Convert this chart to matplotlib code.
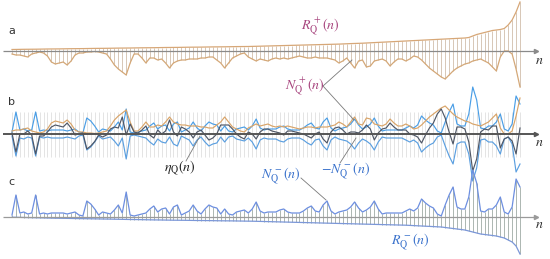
import matplotlib
matplotlib.use("Agg")
import matplotlib.pyplot as plt
import numpy as np
from matplotlib.lines import Line2D

plt.rcParams["mathtext.fontset"] = "stix"

# ---------------- data ----------------
n_index = list(range(1, 131))

# N_Q^+(n): drawn downward in panel a, upward in panel b
N_plus = [3, 4, 4, 5, 6, 3, 2, 1, 2, 5,
          11, 13, 12, 11, 14, 10, 4, 2, 2, 1,
          1, 0.5, 1, 2, 3, 8, 14, 18, 21, 24,
          12, 3, 3, 7, 12, 7, 7, 9, 8, 12,
          17, 12, 10, 9, 9, 8, 8, 8, 7, 7,
          6, 6, 9, 12, 17, 12, 7, 5, 3, 2,
          6, 8, 10, 8, 9, 10, 8, 7, 8, 7,
          8, 7, 6, 5, 6, 7, 7, 6, 7, 7,
          7, 8, 9, 12, 10, 7, 12, 17, 10, 9,
          16, 15, 10, 9, 8, 10, 15, 11, 8, 8,
          10, 8, 5, 6, 9, 13, 17, 20, 23, 26,
          28, 24, 20, 17, 15, 13, 12, 10, 9, 8,
          10, 12, 16, 20, 6, 0, 0, 3, 18, 36]

# N_Q^-(n): drawn upward in panel c, +/- in panel b
N_minus = [2, 22, 4, 5, 3, 4, 22, 3, 4, 3,
           4, 4, 4, 4, 3, 4, 5, 2, 1, 16,
           13, 8, 2, 5, 4, 3, 7, 12, 4, 25,
           2, 1, 2, 3, 4, 8, 11, 5, 8, 9,
           3, 10, 12, 2, 4, 6, 12, 6, 3, 8,
           12, 10, 9, 3, 8, 3, 2, 5, 6, 7,
           4, 8, 15, 6, 4, 5, 5, 5, 7, 8,
           5, 4, 4, 4, 6, 9, 11, 6, 5, 12,
           16, 6, 3, 5, 6, 7, 10, 15, 9, 5,
           7, 10, 16, 8, 3, 4, 4, 4, 4, 4,
           6, 8, 6, 9, 18, 14, 11, 9, 3, 1,
           12, 22, 30, 10, 8, 8, 20, 47, 34, 6,
           5, 8, 8, 12, 20, 5, 3, 10, 38, 30]

# R_Q^+(n): upper envelope in panel a
R_plus = [1.5, 1.6, 1.6, 1.7, 1.7, 1.8, 1.8, 1.9, 1.9, 2.0,
          2.0, 2.1, 2.1, 2.2, 2.2, 2.3, 2.3, 2.4, 2.4, 2.5,
          2.5, 2.6, 2.6, 2.7, 2.7, 2.8, 2.8, 2.9, 2.9, 3.0,
          3.0, 3.1, 3.1, 3.2, 3.2, 3.3, 3.3, 3.4, 3.4, 3.5,
          3.5, 3.6, 3.6, 3.7, 3.7, 3.8, 3.8, 3.9, 3.9, 4.0,
          4.0, 4.1, 4.1, 4.2, 4.2, 4.3, 4.3, 4.4, 4.4, 4.5,
          4.5, 4.6, 4.6, 4.7, 4.8, 4.9, 5.0, 5.1, 5.2, 5.3,
          5.4, 5.5, 5.6, 5.7, 5.8, 5.9, 6.0, 6.1, 6.2, 6.3,
          6.5, 6.6, 6.8, 6.9, 7.1, 7.2, 7.4, 7.5, 7.7, 7.8,
          8.0, 8.2, 8.4, 8.6, 8.8, 9.0, 9.2, 9.4, 9.6, 9.8,
          10.0, 10.2, 10.4, 10.6, 10.8, 11.0, 11.2, 11.4, 11.6, 11.8,
          12.0, 12.2, 12.4, 12.6, 12.8, 13.0, 13.5, 15.0, 16.5, 17.5,
          18.5, 19.5, 20.5, 21.0, 21.5, 22.5, 26.0, 31.0, 39.0, 49.0]

# R_Q^-(n): lower envelope in panel c (magnitude)
R_minus = [0.2, 0.3, 0.4, 0.5, 0.6, 0.7, 0.8, 0.9, 1.0, 1.0,
           1.1, 1.2, 1.2, 1.3, 1.4, 1.4, 1.5, 1.6, 1.6, 1.7,
           1.8, 1.8, 1.9, 2.0, 2.0, 2.1, 2.2, 2.2, 2.3, 2.4,
           2.5, 2.5, 2.6, 2.7, 2.7, 2.8, 2.9, 2.9, 3.0, 3.1,
           3.1, 3.2, 3.2, 3.3, 3.3, 3.4, 3.4, 3.5, 3.5, 3.6,
           3.6, 3.7, 3.7, 3.8, 3.8, 3.9, 3.9, 4.0, 4.0, 4.1,
           4.1, 4.2, 4.3, 4.4, 4.5, 4.6, 4.7, 4.8, 4.9, 5.0,
           5.1, 5.2, 5.3, 5.4, 5.5, 5.6, 5.7, 5.8, 5.9, 6.0,
           6.1, 6.2, 6.3, 6.4, 6.5, 6.6, 6.7, 6.8, 6.9, 7.0,
           7.1, 7.2, 7.3, 7.4, 7.5, 7.6, 7.7, 7.8, 7.9, 8.0,
           8.2, 8.4, 8.6, 8.8, 9.0, 9.2, 9.4, 9.6, 9.8, 10.0,
           10.5, 11.0, 11.5, 12.0, 12.5, 13.0, 14.0, 15.0, 16.0, 17.0,
           17.5, 18.0, 18.5, 19.0, 20.0, 21.0, 23.0, 25.0, 29.0, 37.0]

panel_labels = ["a", "b", "c"]

# ---------------- derived arrays ----------------
n = np.array(n_index, dtype=float)
Np = np.array(N_plus, dtype=float)
Nm = np.array(N_minus, dtype=float)
Rp = np.array(R_plus, dtype=float)
Rm = np.array(R_minus, dtype=float)
eta = Np - Nm

W, H = 550, 259
fig = plt.figure(figsize=(W / 100, H / 100), dpi=100)

step = 508.0 / 129.0
x0px = 12.0
xlim = (1 - x0px / step, 1 + (W - x0px) / step)
x_start = 1 - (x0px - 3) / step
x_end = 1 + (536 - x0px) / step


def make_ax(top, bottom, base):
    ax = fig.add_axes([0, 1 - bottom / H, 1, (bottom - top) / H])
    ax.set_xlim(*xlim)
    ax.set_ylim(-(bottom - base), base - top)
    ax.axis("off")
    ax.patch.set_alpha(0)
    return ax


def baseline(ax, color, lw):
    ax.plot([x_start, x_end], [0, 0], color=color, lw=lw, zorder=5,
            solid_capstyle="butt")
    ax.plot([x_end], [0], marker=">", ms=3, color=color, zorder=6,
            clip_on=False)


# ---- panel a ----
ax_a = make_ax(0, 92, 51)
ax_a.vlines(n, -Np, Rp, color="#c7b09a", lw=0.5, zorder=1)
baseline(ax_a, "#8a8a8a", 0.9)
ax_a.plot(n, Rp, color="#d7a777", lw=0.9, zorder=3)
ax_a.plot(n, -Np, color="#d4a878", lw=0.9, zorder=3)

# ---- panel b ----
ax_b = make_ax(85, 182, 134)
ax_b.vlines(n, -23, 22, color="#d9d9d9", lw=0.5, zorder=1)
ax_b.plot(n, -Nm, color="#5b9fe0", lw=0.85, zorder=3)
ax_b.plot(n, Nm, color="#4a9ee6", lw=0.85, zorder=3)
ax_b.plot(n, Np, color="#d9a468", lw=0.85, zorder=3)
ax_b.plot(n, eta, color="#4f5766", lw=0.85, zorder=4)
baseline(ax_b, "#555555", 1.4)

# ---- panel c ----
ax_c = make_ax(165, 259, 217)
ax_c.vlines(n, -Rm, Nm, color="#8c9a92", lw=0.5, zorder=1)
baseline(ax_c, "#9a9a9a", 0.9)
ax_c.plot(n, Nm, color="#6d8fe0", lw=0.9, zorder=3)
ax_c.plot(n, -Rm, color="#7b97d8", lw=0.9, zorder=3)


# ---------------- texts ----------------
def ftext(x, y, s, **kw):
    fig.text(x / W, 1 - y / H, s, **kw)


for lab, yy in zip(panel_labels, [31, 102, 182]):
    ftext(8, yy, lab, fontsize=8, color="#333333", ha="left", va="center")
for yy in [60, 142, 224]:
    ftext(539, yy, r"$n$", fontsize=10, color="#333333", ha="center",
          va="center")

mag = "#a8467f"
blu = "#3a72cc"
fs = 10
ftext(320, 27, r"$R_\mathrm{Q}^{\,+}(n)$", fontsize=fs, color=mag,
      ha="center", va="center")
ftext(305, 87, r"$N_\mathrm{Q}^{\,+}(n)$", fontsize=fs, color=mag,
      ha="center", va="center")
ftext(180, 168, r"$\eta_\mathrm{Q}(n)$", fontsize=fs, color="#222222",
      ha="center", va="center")
ftext(346, 171, r"$-N_\mathrm{Q}^{\,-}(n)$", fontsize=fs, color=blu,
      ha="center", va="center")
ftext(281, 176, r"$N_\mathrm{Q}^{\,-}(n)$", fontsize=fs, color=blu,
      ha="center", va="center")
ftext(410, 242, r"$R_\mathrm{Q}^{\,-}(n)$", fontsize=fs, color=blu,
      ha="center", va="center")


def leader(x1, y1, x2, y2):
    fig.add_artist(Line2D([x1 / W, x2 / W], [1 - y1 / H, 1 - y2 / H],
                          color="#7a7a7a", lw=0.6))


leader(323, 86, 352, 60)
leader(323, 86, 354, 120)
leader(186, 161, 200, 136)
leader(340, 163, 356, 138)
leader(301, 178, 326, 200)

fig.savefig("out.png", dpi=100)
